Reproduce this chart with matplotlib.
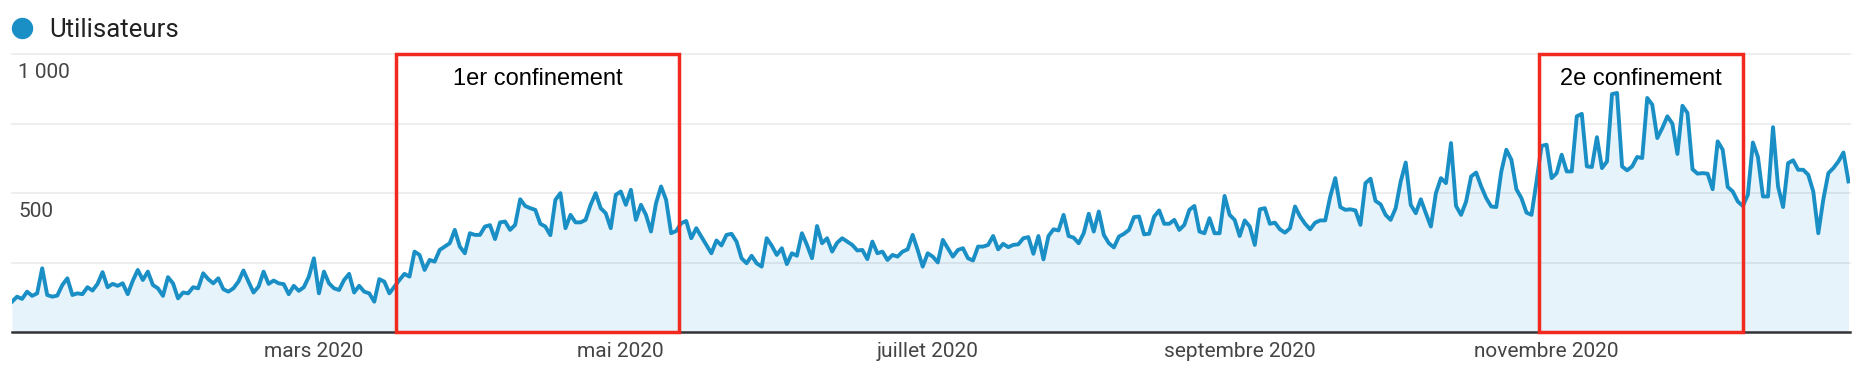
import numpy as np
import pandas as pd
import matplotlib
matplotlib.use('Agg')
import matplotlib.pyplot as plt
from matplotlib import transforms
from matplotlib.lines import Line2D
from matplotlib.patches import Rectangle

# Utilisateurs par jour, du 1er janvier au 31 décembre 2020
start = pd.Timestamp('2020-01-01')
users = [
    110, 128, 120, 146, 131, 140, 230, 134, 128, 132, 170, 194, 134, 140, 137, 162, 150, 174, 216, 162,
    174, 167, 176, 137, 185, 224, 188, 218, 170, 158, 131, 198, 176, 122, 143, 140, 162, 158, 212, 191,
    176, 194, 155, 146, 158, 182, 222, 182, 143, 164, 218, 174, 186, 176, 173, 137, 167, 149, 162, 200,
    266, 140,
    218, 176, 158, 152, 188, 210, 143, 167, 146, 140, 110, 191, 182, 140, 164, 188, 210, 200, 290, 278,
    224, 260, 254, 296, 308, 320, 368, 308, 284, 356, 350, 350, 380, 385, 335, 395, 398, 368, 386, 478,
    454, 446, 440, 390, 380, 349, 476, 500, 374, 422, 395, 395, 404, 458, 500, 446, 428, 374, 494, 506,
    458, 512, 404, 458, 422, 362, 464, 524, 476, 356, 364, 392, 400, 338, 374, 344, 314, 284, 330, 312,
    350, 354, 326, 266, 248, 275, 248, 236, 338, 311, 278, 302, 245, 284, 275, 356, 314, 266, 382, 320,
    338, 290, 322, 338, 326, 314, 294, 296, 263, 326, 284, 290, 260, 278, 272, 290, 298, 350, 296,
    236, 284, 272, 251, 332, 302, 272, 296, 302, 266, 258, 308, 308, 314, 346, 298, 318, 306, 314, 316,
    338, 342, 282, 346, 262, 346, 370, 366, 422, 346, 340, 320, 356, 426, 362, 434, 350, 320, 305, 344,
    354, 368, 414, 416, 352, 354, 416, 438, 390, 390, 404, 368, 386, 440, 454, 362, 356, 410, 356, 356,
    490, 422, 404, 346, 402, 380, 314, 442, 446, 390, 394, 370, 358, 374, 452, 416, 390, 370, 394, 402,
    402, 488, 554, 450, 440, 442, 438, 386, 536, 552, 472, 460, 422, 404, 446, 542, 610, 458, 428, 478,
    428, 380, 500, 554, 536, 680, 454, 422, 470, 560, 574, 524, 482, 452, 450, 578, 656, 620, 514, 482,
    430, 422, 542,
    670, 674, 554, 572, 638, 578, 578, 776, 785, 596, 594, 701, 590, 614, 856, 860, 596, 582, 596, 630,
    626, 842, 818, 698, 734, 776, 750, 641, 814, 788, 586, 570, 572, 570, 514, 686, 656, 522, 506, 470,
    454, 494, 682, 630, 488, 488, 737, 524, 450, 608, 618, 584, 584, 566, 506, 356, 478, 572, 590, 614,
    646, 542,
]
days = np.arange(len(users))

month_ticks = ['2020-03-01', '2020-05-01', '2020-07-01', '2020-09-01', '2020-11-01']
month_labels = ['mars 2020', 'mai 2020', 'juillet 2020', 'septembre 2020', 'novembre 2020']
grid_values = [250, 500, 750, 1000]
y_label_values = [1000, 500]
y_label_text = ['1 000', '500']

# confinements (en jours depuis le 1er janvier)
lockdown_names = ['1er confinement', '2e confinement']
lockdown_start = [76.3, 303.4]
lockdown_end = [132.6, 344.1]

line_color = '#1a8fc6'
fill_color = '#e6f3fa'
red = '#f2291f'

W, H = 1866, 372
fig = plt.figure(figsize=(W / 100, H / 100), dpi=100)
ax = fig.add_axes([12 / W, 1 - 332.3 / H, 1838 / W, (332.3 - 54) / H])
ax.set_xlim(0, 365.3)
ax.set_ylim(0, 1000)

ax.fill_between(days, users, 0, color=fill_color, lw=0, zorder=1)
for v in grid_values:
    ax.axhline(v, color=(0, 0, 0, 0.075), lw=1.3, zorder=2, clip_on=False)
ax.plot(days, users, color=line_color, lw=2.8, zorder=3)
ax.axhline(0, color='#333333', lw=1.8, zorder=4, clip_on=False)

for s in ax.spines.values():
    s.set_visible(False)

ax.set_yticks([])
ax.set_xticks([(pd.Timestamp(m) - start).days for m in month_ticks])
ax.set_xticklabels(month_labels, fontsize=15, color='#444444', family='Roboto')
ax.tick_params(axis='x', length=0, pad=7)

# étiquettes de l'axe y, sous la ligne de grille
trans = transforms.blended_transform_factory(ax.transAxes, ax.transData)
trans = transforms.offset_copy(trans, fig=fig, y=-13, units='points')
for v, t in zip(y_label_values, y_label_text):
    ax.text(0.0033, v, t, transform=trans, ha='left', va='center',
            fontsize=15, color='#444444', family='Roboto')

# cadres rouges
for name, x0, x1 in zip(lockdown_names, lockdown_start, lockdown_end):
    ax.add_patch(Rectangle((x0, 0), x1 - x0, 1000, fill=False, ec=red, lw=2.5,
                           clip_on=False, zorder=5))
    ax.text((x0 + x1) / 2, 911, name, ha='center', va='center', fontsize=17,
            color='black', family='Liberation Sans', zorder=6)

# légende
fig.add_artist(Line2D([22 / W], [1 - 28 / H], marker='o', markersize=14.4, lw=0,
                      color=line_color, transform=fig.transFigure))
fig.text(49 / W, 1 - 30 / H, 'Utilisateurs', ha='left', va='center',
         fontsize=18.5, color='#212121', family='Roboto')

fig.savefig('out.png', dpi=100)
